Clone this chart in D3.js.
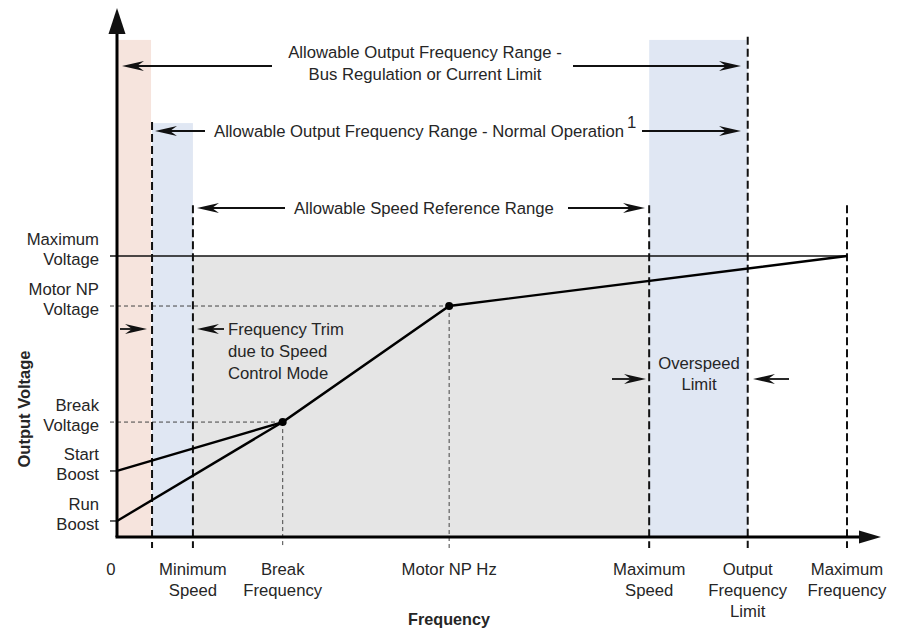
<!DOCTYPE html>
<html><head><meta charset="utf-8">
<script src="https://cdn.jsdelivr.net/npm/d3@7"></script>
<style>
html,body{margin:0;padding:0;background:#fff;}
svg text{font-family:"Liberation Sans",Arial,Helvetica,sans-serif;fill:#262626;}
</style></head>
<body><svg id="c" width="903" height="631"></svg>
<script>
// ---------- data (frequency in % of Maximum Frequency, voltage in % of Maximum Voltage)
const freqNames  = ["0","Trim","Minimum Speed","Break Frequency","Motor NP Hz","Maximum Speed","Output Frequency Limit","Maximum Frequency"];
const freqValues = [0, 4.8, 10.4, 22.7, 45.5, 72.9, 86.4, 100];
const freqTickLabels = [["0"],["Minimum","Speed"],["Break","Frequency"],["Motor NP Hz"],["Maximum","Speed"],["Output","Frequency","Limit"],["Maximum","Frequency"]];
const freqTickValues = [0, 10.4, 22.7, 45.5, 72.9, 86.4, 100];
const voltNames  = ["Run Boost","Start Boost","Break Voltage","Motor NP Voltage","Maximum Voltage"];
const voltValues = [5.7, 23.5, 40.9, 82.2, 100];
const voltTickLabels = [["Maximum","Voltage"],["Motor NP","Voltage"],["Break","Voltage"],["Start","Boost"],["Run","Boost"]];
const voltTickValues = [100, 82.2, 40.9, 23.5, 5.7];
// V/Hz curves: [freq, volt]
const startBoostCurve = [[0,23.5],[22.7,40.9],[45.5,82.2],[100,100]];
const runBoostCurve   = [[0,5.7],[22.7,40.9]];
const curvePoints     = [[22.7,40.9],[45.5,82.2]];
// shaded ranges [from, to, top(volt)]
const pinkBand  = [0, 4.8, 176.9];
const blueBands = [[4.8, 10.4, 147.3],[72.9, 86.4, 176.9]];
const grayArea  = [10.4, 72.9, 100];

// ---------- layout
const W=903,H=631;
const x=d3.scaleLinear().domain([0,100]).range([117,847]);
const y=d3.scaleLinear().domain([0,100]).range([537,256]);
const svg=d3.select("#c");
const FS=16.7;

// bands
svg.append("rect").attr("x",x(pinkBand[0])).attr("y",y(pinkBand[2])).attr("width",x(pinkBand[1])-x(pinkBand[0])-1).attr("height",y(0)-y(pinkBand[2])).attr("fill","#f6e4dd");
blueBands.forEach(b=>svg.append("rect").attr("x",x(b[0])).attr("y",y(b[2])).attr("width",x(b[1])-x(b[0])).attr("height",y(0)-y(b[2])).attr("fill","#e0e7f3"));
svg.append("rect").attr("x",x(grayArea[0])).attr("y",y(grayArea[2])).attr("width",x(grayArea[1])-x(grayArea[0])).attr("height",y(0)-y(grayArea[2])).attr("fill","#e5e5e5");

// thin dashed reference lines
const thin={stroke:"#444","stroke-width":1,"stroke-dasharray":"4,3"};
function line(x1,y1,x2,y2,st){const l=svg.append("line").attr("x1",x1).attr("y1",y1).attr("x2",x2).attr("y2",y2);Object.entries(st).forEach(([k,v])=>l.attr(k,v));return l;}
line(110,y(82.2),x(45.5),y(82.2),thin);
line(110,y(40.9),x(22.7),y(40.9),thin);
line(x(45.5),y(82.2),x(45.5),y(0)+11,thin);
line(x(22.7),y(40.9),x(22.7),y(0)+11,thin);

// thick dashed verticals
const thick={stroke:"#111","stroke-width":2,"stroke-dasharray":"8,4"};
const dashTops=[[4.8,147.7],[10.4,118.1],[72.9,118.1],[86.4,178],[100,118.1]];
dashTops.forEach(d=>line(x(d[0]),y(d[1]),x(d[0]),y(0)+11,thick));

// max voltage line
line(110,y(100),x(100),y(100),{stroke:"#111","stroke-width":1.6});
// tick marks for boosts
line(110,y(23.5),x(0),y(23.5),{stroke:"#111","stroke-width":1.3});
line(110,y(5.7),x(0),y(5.7),{stroke:"#111","stroke-width":1.3});

// curves
const lg=d3.line().x(d=>x(d[0])).y(d=>y(d[1]));
svg.append("path").attr("d",lg(startBoostCurve)).attr("fill","none").attr("stroke","#000").attr("stroke-width",2.4);
svg.append("path").attr("d",lg(runBoostCurve)).attr("fill","none").attr("stroke","#000").attr("stroke-width",2.4);
curvePoints.forEach(p=>svg.append("circle").attr("cx",x(p[0])).attr("cy",y(p[1])).attr("r",4).attr("fill","#000"));

// axes
line(x(0),y(0),x(0),33,{stroke:"#000","stroke-width":3});
line(x(0)-1.5,y(0),862,y(0),{stroke:"#000","stroke-width":3});
svg.append("path").attr("d",`M${x(0)},8 L${x(0)-8.5},34 L${x(0)+8.5},34 Z`).attr("fill","#111");
svg.append("path").attr("d",`M881,${y(0)} L859,${y(0)-6.5} L859,${y(0)+6.5} Z`).attr("fill","#111");

// annotation arrows (notched)
function arrow(x1,yy,x2){ // tail x1 -> tip x2
  const dir=x2>x1?1:-1, L=22, w=5, n=7;
  svg.append("line").attr("x1",x1).attr("y1",yy).attr("x2",x2-dir*8).attr("y2",yy).attr("stroke","#111").attr("stroke-width",1.8);
  svg.append("path").attr("d",`M${x2},${yy} L${x2-dir*L},${yy-w} L${x2-dir*(L-n)},${yy} L${x2-dir*L},${yy+w} Z`).attr("fill","#111");
}
arrow(272,66,122); arrow(573,66,741);
arrow(205,131,155); arrow(642,131,741);
arrow(285,208,197); arrow(568,208,645);
arrow(120,329,147); arrow(224,329,197);
arrow(612,379,646); arrow(789,379,753);

function txt(t,xx,yy,anchor,opts={}){
  const e=svg.append("text").attr("x",xx).attr("y",yy).attr("text-anchor",anchor).attr("font-size",opts.fs||FS).text(t);
  if(opts.bold)e.attr("font-weight","bold");
  return e;
}
txt("Allowable Output Frequency Range -",425,58,"middle");
txt("Bus Regulation or Current Limit",425,80,"middle");
txt("Allowable Output Frequency Range - Normal Operation",214,137,"start");
txt("1",627,128,"start");
txt("Allowable Speed Reference Range",424,214,"middle");
["Frequency Trim","due to Speed","Control Mode"].forEach((t,i)=>txt(t,228,335+i*22,"start"));
["Overspeed","Limit"].forEach((t,i)=>txt(t,699,369+i*21,"middle"));

// y tick labels
voltTickValues.forEach((v,i)=>{
  const lines=voltTickLabels[i];
  txt(lines[0],99,y(v)-11,"end");
  txt(lines[1],99,y(v)+9,"end");
});
// x tick labels
freqTickValues.forEach((v,i)=>{
  freqTickLabels[i].forEach((t,j)=>txt(t,i===0?111:x(v),575+j*21,"middle"));
});

// axis titles
txt("Frequency",449,625,"middle",{bold:true,fs:16.2});
svg.append("text").attr("transform","translate(30,409) rotate(-90)").attr("text-anchor","middle").attr("font-size",16.5).attr("font-weight","bold").text("Output Voltage");
</script></body></html>
